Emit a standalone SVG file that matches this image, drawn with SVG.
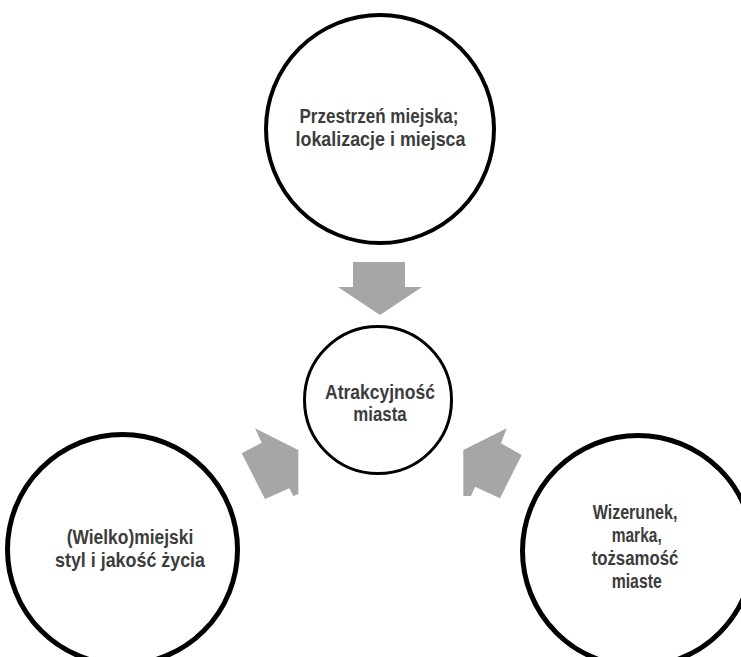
<svg xmlns="http://www.w3.org/2000/svg" width="741" height="657" viewBox="0 0 741 657">
  <style>
    .ring { fill: #ffffff; stroke: #000000; }
    .lbl { font-family: "Liberation Sans", Arial, sans-serif; font-weight: bold; font-size: 21px; fill: #3c3c3c; text-anchor: middle; }
    .arrow { fill: #a6a6a6; stroke: none; }
  </style>
  <rect x="0" y="0" width="741" height="657" fill="#ffffff"/>

  <!-- block arrows pointing into the central circle -->
  <g id="connectors">
    <polygon class="arrow" points="353,262 405,262 405,287 422,287 380,315 338,287 353,287"/>
    <polygon class="arrow" points="255,428.3 261.7,442.7 241.7,453.3 265,499 289.3,488.3 293.3,496 298.3,494 298.3,450"/>
    <polygon class="arrow" points="506.7,428.3 501,443.3 521.7,455 500,498.3 475,486.7 471,496 463.3,496 463.3,450"/>
  </g>

  <g id="node-space">
    <circle class="ring" cx="380" cy="129" r="114" stroke-width="4"/>
    <text class="lbl" x="379" y="123" textLength="159" lengthAdjust="spacingAndGlyphs">Przestrzeń miejska;</text>
    <text class="lbl" x="380.5" y="145.5" textLength="170" lengthAdjust="spacingAndGlyphs">lokalizacje i miejsca</text>
  </g>

  <g id="node-center">
    <circle class="ring" cx="378" cy="400" r="73.5" stroke-width="3"/>
    <text class="lbl" x="380" y="398.5" textLength="110" lengthAdjust="spacingAndGlyphs">Atrakcyjność</text>
    <text class="lbl" x="380" y="420.5" textLength="53.3" lengthAdjust="spacingAndGlyphs">miasta</text>
  </g>

  <g id="node-lifestyle">
    <circle class="ring" cx="122.5" cy="549.5" r="115" stroke-width="5"/>
    <text class="lbl" x="130" y="544" textLength="126.7" lengthAdjust="spacingAndGlyphs">(Wielko)miejski</text>
    <text class="lbl" x="130" y="567" textLength="150" lengthAdjust="spacingAndGlyphs">styl i jakość życia</text>
  </g>

  <g id="node-image">
    <circle class="ring" cx="638" cy="551" r="115.5" stroke-width="5"/>
    <text class="lbl" x="635" y="518.5" textLength="84.7" lengthAdjust="spacingAndGlyphs">Wizerunek,</text>
    <text class="lbl" x="636.7" y="542" textLength="50" lengthAdjust="spacingAndGlyphs">marka,</text>
    <text class="lbl" x="635" y="565" textLength="86.7" lengthAdjust="spacingAndGlyphs">tożsamość</text>
    <text class="lbl" x="636.7" y="587.5" textLength="50" lengthAdjust="spacingAndGlyphs">miaste</text>
  </g>
</svg>
